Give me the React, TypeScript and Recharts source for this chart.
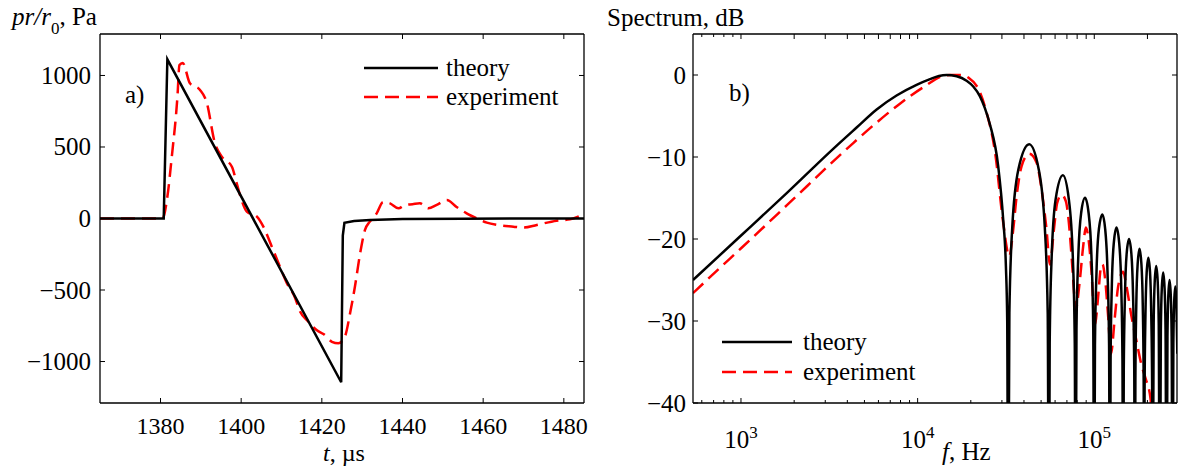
import React from "react";
import { LineChart, Line, XAxis, YAxis } from "recharts";

// a) pressure waveform, t in µs, p in Pa
const tTheory = [1365, 1380.8, 1381.7, 1424.8, 1425.2, 1425.6, 1428, 1432, 1440, 1455, 1485];
const pTheory = [0, 0, 1113, -1145, -120, -30, -18, -10, -4, -1, 0];

const tExp = [
  1365, 1372, 1380.5, 1381.7, 1382.8, 1384.2, 1384.7, 1385.5, 1387.3, 1389.8, 1391.4, 1393.5,
  1395.2, 1397.7, 1398.9, 1400.1, 1401.4, 1403.9, 1405.5, 1407.6, 1409.5, 1411.3, 1413.3, 1414.6,
  1416.6, 1418.7, 1420.5, 1422.5, 1424.1, 1425.7, 1427, 1428.2, 1429.5, 1430.7, 1431.9, 1433.6,
  1435.2, 1436.9, 1439, 1440.6, 1442.5, 1444.3, 1446.4, 1448.5, 1451, 1453.2, 1455.9, 1458.5,
  1460.9, 1463.4, 1467.5, 1470, 1473.3, 1478.2, 1481.5, 1485,
];
const pExp = [
  0, 0, 0, 152, 432, 852, 1073, 1088, 945, 899, 817, 526,
  432, 362, 246, 129, 48, 13, -57, -197, -330, -450, -550, -650,
  -720, -780, -810, -862, -873, -827, -663, -477, -243, -80, -22, 36,
  115, 106, 71, 94, 100, 106, 71, 95, 129, 85, 36, 0,
  -29, -45, -57, -63, -45, -15, -6, 30,
];

// b) spectrum, f in Hz, level in dB
const fTheory = [
  535, 987, 1815, 3327, 4516, 5863, 7600, 9860, 11750, 13200, 14590, 16630, 18930, 20650, 22540,
  24000, 25650, 28580, 30500, 31600, 32150, 32560,
  33070, 34330, 37200, 42820, 48460, 52480, 54500, 55360,
  55930, 57340, 60390, 66430, 71820, 75660, 77550, 78370,
  79300, 81280, 84310, 88680, 92830, 96300, 98700, 99860,
  100900, 103000, 106200, 111100, 115300, 118800, 121300, 122600,
  123700, 125800, 129100, 133600, 138300, 142000, 144400, 145700,
  146900, 149200, 152500, 157300, 162200, 165800, 168400, 169800,
  170900, 172900, 176100, 180400, 184800, 188200, 190400, 191600,
  192700, 194900, 198000, 202400, 206900, 210200, 212700, 213800,
  216900, 220000, 224200, 228500, 231700, 235000,
  238200, 241300, 245600, 249900, 253200, 256500,
  259600, 262700, 266800, 271000, 274200, 277500,
  280400, 283500, 287600, 291700, 295300,
];
const sTheory = [
  -25.0, -19.7, -14.4, -9.0, -6.4, -4.2, -2.5, -1.2, -0.5, -0.12, 0, -0.15, -0.7, -1.4, -2.6,
  -4.0, -6.0, -11.1, -17.6, -23.3, -30, -60,
  -29, -18.6, -11.5, -8.45, -11.5, -18.6, -29, -60,
  -32.7, -22.4, -15.2, -12.24, -15.2, -22.4, -32.7, -60,
  -31, -21.9, -16.8, -14.97, -16.8, -21.9, -31, -60,
  -33, -23.9, -18.8, -17.0, -18.8, -23.9, -33, -60,
  -34.7, -25.5, -20.4, -18.6, -20.4, -25.5, -34.7, -60,
  -36, -26.9, -21.8, -20.0, -21.8, -26.9, -36, -60,
  -37.3, -28.1, -23.0, -21.2, -23.0, -28.1, -37.3, -60,
  -38.4, -29.2, -24.1, -22.3, -24.1, -29.2, -38.4, -60,
  -30.2, -25.1, -23.3, -25.1, -30.2, -60,
  -31, -25.9, -24.1, -25.9, -31, -60,
  -31.9, -26.8, -25.0, -26.8, -31.9, -60,
  -32.7, -27.6, -25.8, -27.6, -34,
];

const fExp = [
  535, 744, 1005, 1337, 1814, 2354, 3190, 4320, 5861, 7940, 10760, 13960, 15200, 16620, 17900,
  19340, 22520, 24580, 27390, 30510, 33000,
  34750, 36340, 38790, 42820, 47160, 50330, 53700, 56080,
  59070, 61660, 65300, 69070, 71170, 74390, 76670, 78370,
  82880, 86530, 89650, 92370, 96540, 100800,
  105200, 108600, 111400, 114800, 119900, 124200,
  130800, 136500, 145700, 152300, 162600, 173600, 185200, 195100, 208300, 214600,
];
const sExp = [
  -26.6, -23.7, -21.1, -18.6, -15.9, -13.6, -10.9, -8.3, -5.8, -3.5, -1.5, -0.1, 0, 0, 0,
  -0.3, -2.1, -4.6, -9.3, -18.0, -22.1,
  -18.9, -14.8, -11.1, -9.6, -10.7, -14.0, -18.9, -23.1,
  -18.9, -15.6, -14.6, -15.4, -17.2, -22.1, -26.2, -28.6,
  -25.0, -20.9, -18.6, -19.7, -24.1, -30.5,
  -27.0, -23.7, -23.1, -24.6, -29.5, -34,
  -29.5, -25.8, -24.0, -25.8, -29.5, -32.5, -35.4, -37, -39.5, -45,
];

const pTicks = [-1000, -500, 0, 500, 1000];
const tTicks = [1380, 1400, 1420, 1440, 1460, 1480];
const dbTicks = [-40, -30, -20, -10, 0];
const fTicks = [
  600, 700, 800, 900, 1000, 2000, 3000, 4000, 5000, 6000, 7000, 8000, 9000,
  10000, 20000, 30000, 40000, 50000, 60000, 70000, 80000, 90000, 100000, 200000,
];
const decades = [1000, 10000, 100000];

const FONT = "'Liberation Serif', 'Times New Roman', serif";
const LW = 2.5;

const zip = (xs: number[], ys: number[]) => xs.map((x, i) => ({ x, y: ys[i] }));
const fmt = (v: number) => (v < 0 ? "\u2212" + Math.abs(v) : String(v));

const axisLine = { stroke: "#000", strokeWidth: 1.3 };
const txt = { fontFamily: FONT, fill: "#000" };

const TimeTick = ({ x, y, payload }: any) => (
  <g>
    <line x1={x} x2={x} y1={y} y2={y - 5} stroke="#000" />
    <text x={x} y={y + 31} textAnchor="middle" fontSize={24} style={txt}>
      {payload.value}
    </text>
  </g>
);

const TopTick = ({ x, y, payload }: any) => {
  const len = decades.includes(payload.value) || payload.value > 1300 ? 5 : 3;
  return <line x1={x} x2={x} y1={y} y2={y + len} stroke="#000" />;
};

const FreqTick = ({ x, y, payload }: any) => {
  const major = decades.includes(payload.value);
  return (
    <g>
      <line x1={x} x2={x} y1={y} y2={y - (major ? 5 : 3)} stroke="#000" />
      {major && (
        <text x={x} y={y + 45} textAnchor="middle" fontSize={25} style={txt}>
          <tspan>10</tspan>
          <tspan dy={-10} fontSize={17}>
            {Math.round(Math.log10(payload.value))}
          </tspan>
        </text>
      )}
    </g>
  );
};

const LeftTick = (gap: number) => ({ x, y, payload }: any) => (
  <g>
    <line x1={x} x2={x + 5} y1={y} y2={y} stroke="#000" />
    <text x={x - gap} y={y} dy="0.34em" textAnchor="end" fontSize={25} style={txt}>
      {fmt(payload.value)}
    </text>
  </g>
);

const RightTick = ({ x, y }: any) => <line x1={x} x2={x - 5} y1={y} y2={y} stroke="#000" />;

// axes sizes: bottom 30, top 10, left 40, right 6 (right panel: 1)
export default function App() {
  return (
    <div style={{ position: "absolute", left: 0, top: 0, width: 1178, height: 466, background: "#fff" }}>
      <LineChart
        width={600}
        height={466}
        margin={{ top: 24, left: 60, right: 10, bottom: 33 }}
        style={{ position: "absolute", left: 0, top: 0 }}
      >
        <XAxis dataKey="x" type="number" domain={[1365, 1485]} ticks={tTicks} interval={0} allowDataOverflow
          height={30} tickSize={0} tickMargin={0} tick={<TimeTick />} axisLine={axisLine} tickLine={false} />
        <XAxis xAxisId="top" orientation="top" dataKey="x" type="number" domain={[1365, 1485]} ticks={tTicks}
          interval={0} allowDataOverflow height={10} tickSize={0} tickMargin={0} tick={<TopTick />}
          axisLine={axisLine} tickLine={false} />
        <YAxis type="number" domain={[-1290, 1290]} ticks={pTicks} interval={0} allowDataOverflow
          width={40} tickSize={0} tickMargin={0} tick={LeftTick(9)} axisLine={axisLine} tickLine={false} />
        <YAxis yAxisId="right" orientation="right" type="number" domain={[-1290, 1290]} ticks={pTicks}
          interval={0} allowDataOverflow width={6} tickSize={0} tickMargin={0} tick={<RightTick />}
          axisLine={axisLine} tickLine={false} />
        <Line data={zip(tExp, pExp)} dataKey="y" type="monotone" stroke="#ff0000" strokeWidth={LW}
          strokeDasharray="14 7" dot={false} isAnimationActive={false} />
        <Line data={zip(tTheory, pTheory)} dataKey="y" type="linear" stroke="#000" strokeWidth={LW}
          dot={false} isAnimationActive={false} />
      </LineChart>

      <LineChart
        width={578}
        height={466}
        margin={{ top: 24, left: 53, right: 0, bottom: 33 }}
        style={{ position: "absolute", left: 600, top: 0 }}
      >
        <XAxis dataKey="x" type="number" scale="log" domain={[535, 294000]} ticks={fTicks} interval={0}
          allowDataOverflow height={30} tickSize={0} tickMargin={0} tick={<FreqTick />} axisLine={axisLine}
          tickLine={false} />
        <XAxis xAxisId="top" orientation="top" dataKey="x" type="number" scale="log" domain={[535, 294000]}
          ticks={fTicks} interval={0} allowDataOverflow height={10} tickSize={0} tickMargin={0}
          tick={<TopTick />} axisLine={axisLine} tickLine={false} />
        <YAxis type="number" domain={[-40, 5]} ticks={dbTicks} interval={0} allowDataOverflow
          width={40} tickSize={0} tickMargin={0} tick={LeftTick(7)} axisLine={axisLine} tickLine={false} />
        <YAxis yAxisId="right" orientation="right" type="number" domain={[-40, 5]} ticks={dbTicks} interval={0}
          allowDataOverflow width={1} tickSize={0} tickMargin={0} tick={<RightTick />} axisLine={axisLine}
          tickLine={false} />
        <Line data={zip(fExp, sExp)} dataKey="y" type="monotone" stroke="#ff0000" strokeWidth={LW}
          strokeDasharray="14 7" dot={false} isAnimationActive={false} />
        <Line data={zip(fTheory, sTheory)} dataKey="y" type="monotone" stroke="#000" strokeWidth={LW}
          dot={false} isAnimationActive={false} />
      </LineChart>

      <svg width={1178} height={466} fontFamily={FONT} fontSize={25}
        style={{ position: "absolute", left: 0, top: 0, pointerEvents: "none" }}>
        <text x={12} y={25}>
          <tspan fontStyle="italic">pr/r</tspan>
          <tspan fontSize={17} dy={9}>0</tspan>
          <tspan dy={-9}>, Pa</tspan>
        </text>
        <text x={607} y={26}>Spectrum, dB</text>
        <text x={344} y={461} textAnchor="middle" fontSize={24}>
          <tspan fontStyle="italic">t</tspan>, µs
        </text>
        <text x={942} y={460}>
          <tspan fontStyle="italic">f</tspan>, Hz
        </text>
        <text x={125} y={103}>a)</text>
        <text x={729} y={101}>b)</text>

        <line x1={364} x2={438} y1={68} y2={68} stroke="#000" strokeWidth={LW} />
        <text x={446} y={76}>theory</text>
        <line x1={364} x2={438} y1={97} y2={97} stroke="#ff0000" strokeWidth={LW} strokeDasharray="14 7" />
        <text x={446} y={105}>experiment</text>

        <line x1={722} x2={792} y1={342} y2={342} stroke="#000" strokeWidth={LW} />
        <text x={803} y={350}>theory</text>
        <line x1={722} x2={792} y1={372} y2={372} stroke="#ff0000" strokeWidth={LW} strokeDasharray="14 7" />
        <text x={803} y={380}>experiment</text>
      </svg>
    </div>
  );
}
